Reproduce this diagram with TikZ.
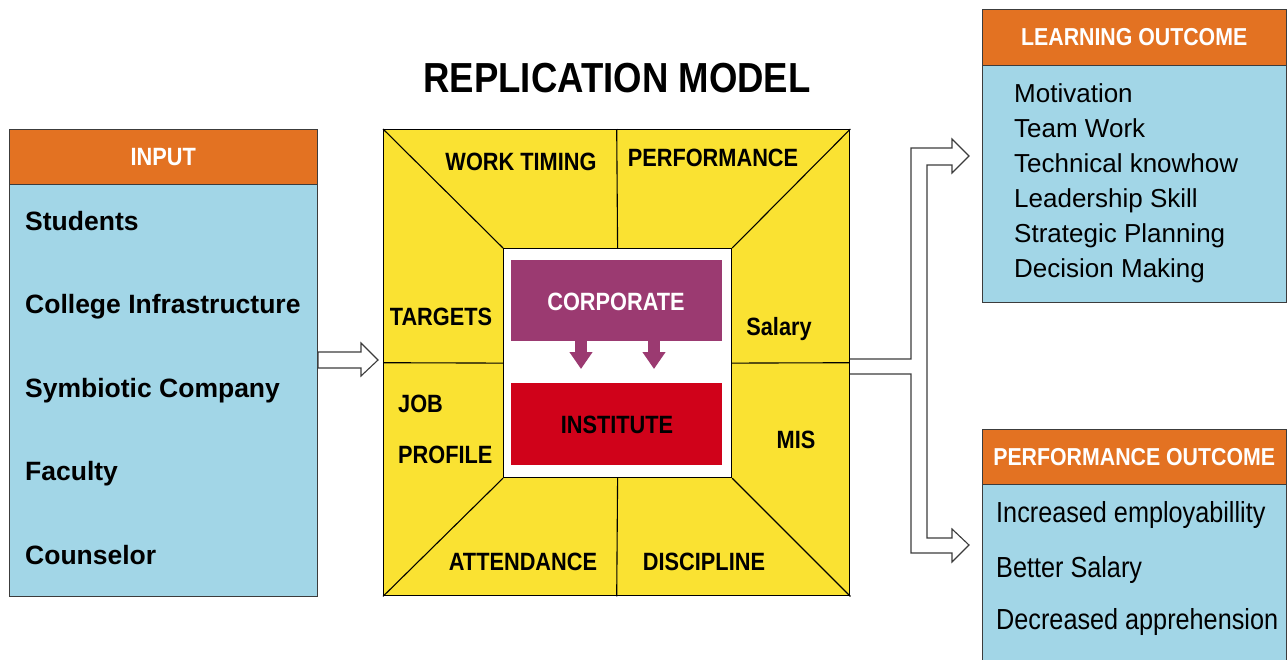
\documentclass[tikz,border=0pt]{standalone}
\usepackage{fontspec}
\setmainfont{Liberation Sans}
\newfontfamily\narrowfont[FakeStretch=0.87]{Liberation Sans}
\usetikzlibrary{positioning,calc}
\usetikzlibrary{arrows.meta}
\definecolor{HeadOrange}{RGB}{227,114,34}
\definecolor{BodyBlue}{RGB}{162,214,231}
\definecolor{PanelYellow}{RGB}{250,226,50}
\definecolor{CorpPurple}{RGB}{155,58,113}
\definecolor{InstRed}{RGB}{208,2,26}
\definecolor{LineGray}{RGB}{60,60,60}
\tikzset{
	hdr/.style={draw=LineGray,fill=HeadOrange,text=white,anchor=north west,inner sep=0pt,
		font=\narrowfont\bfseries\fontsize{24.5}{28}\selectfont},
	body/.style={draw=LineGray,fill=BodyBlue,anchor=north west,inner sep=0pt,line width=1.2pt},
	initem/.style={anchor=base west,inner sep=0pt,font=\bfseries\fontsize{26.5}{30}\selectfont},
	lrnitem/.style={anchor=base west,inner sep=0pt,font=\fontsize{26}{30}\selectfont},
	prfitem/.style={anchor=base west,inner sep=0pt,font=\narrowfont\fontsize{29}{32}\selectfont},
	lab/.style={anchor=base,inner sep=0pt,font=\narrowfont\bfseries\fontsize{25}{28}\selectfont},
	hollow/.style={draw=LineGray,fill=white,line width=1.1pt,line join=miter},
	drop/.style={CorpPurple,line width=12pt,-{Triangle[width=22pt,length=17pt]}},
}
\begin{document}
\begin{tikzpicture}[x=1pt,y=-1pt]
	\useasboundingbox (0,0) rectangle (1287,659);
	% title
	\node[anchor=base,inner sep=0pt,font=\narrowfont\bfseries\fontsize{42}{46}\selectfont] (title) at (617,92) {REPLICATION MODEL};
	% input column
	\node[body,minimum width=308,minimum height=412] (inbody) at (9,184) {};
	\node[hdr,minimum width=308,minimum height=55,font=\narrowfont\bfseries\fontsize{25}{28}\selectfont] (inhead) at (9,129) {INPUT};
	\foreach \t/\y in {Students/230,College Infrastructure/313.5,Symbiotic Company/397,Faculty/480.5,Counselor/564}
	\node[initem] at (25,\y) {\t};
	% the square with its panels
	\node[draw=black,fill=PanelYellow,line width=1.4pt,anchor=north west,minimum width=466,minimum height=466] (sq) at (383,129) {};
	\node[draw=black,fill=white,line width=1.2pt,anchor=north west,minimum width=228,minimum height=229] (core) at (503,248) {};
	\foreach \a in {north west,north east,south west,south east,north,south,west,east}
	\draw[line width=1.1pt] (sq.\a) -- (core.\a);
	\node[lab] (worktime) at (521,170) {WORK TIMING};
	\node[lab] (perf) at (713,166) {PERFORMANCE};
	\node[lab] (targets) at (441,325) {TARGETS};
	\node[lab] (salary) at (779,335) {Salary};
	\node[lab,anchor=base west] (job) at (398,412) {JOB};
	\node[lab,anchor=base west] (profile) at (398,463) {PROFILE};
	\node[lab] (mis) at (796,448) {MIS};
	\node[lab] (attend) at (523,570) {ATTENDANCE};
	\node[lab] (discip) at (704,570) {DISCIPLINE};
	% corporate feeds the institute
	\node[fill=CorpPurple,anchor=north west,minimum width=211,minimum height=81] (corp) at (511,260) {};
	\node[lab,text=white] at (616,310) {CORPORATE};
	\node[fill=InstRed,anchor=north west,minimum width=211,minimum height=82] (inst) at (511,383) {};
	\node[lab] at (617,433) {INSTITUTE};
	\draw[drop] (corp.south -| 581,0) -- (581,369);
	\draw[drop] (corp.south -| 654,0) -- (654,369);
	% learning and performance outcomes
	\node[body,minimum width=304,minimum height=237] (lrnbody) at (982,65) {};
	\node[hdr,minimum width=304,minimum height=56] (lrnhead) at (982,9) {LEARNING OUTCOME};
	\foreach \t/\y in {Motivation/102,Team Work/137,Technical knowhow/172,Leadership Skill/207,Strategic Planning/242,Decision Making/277}
	\node[lrnitem] at (1014,\y) {\t};
	\node[body,minimum width=304,minimum height=200] (prfbody) at (982,484) {};
	\node[hdr,minimum width=304,minimum height=55] (prfhead) at (982,429) {PERFORMANCE OUTCOME};
	\foreach \t/\y in {Increased employabillity/522,Better Salary/577,Decreased apprehension/629}
	\node[prfitem] at (996,\y) {\t};
	% hollow arrows
	\draw[hollow] (318,352) -- (361,352) -- (361,343) -- (378,360) -- (361,376) -- (361,368) -- (318,368) -- cycle;
	\coordinate (uptip) at (969,156);
	\coordinate (lowtip) at (969,545);
	\filldraw[hollow] (850,359) -- (911,359) -- (911,148) -- (952,148) -- (952,139) -- (uptip)
		-- (952,173) -- (952,165) -- (927,165) -- (927,538) -- (952,538) -- (952,529) -- (lowtip)
		-- (952,562) -- (952,553) -- (911,553) -- (911,374) -- (850,374);
\end{tikzpicture}
\end{document}
